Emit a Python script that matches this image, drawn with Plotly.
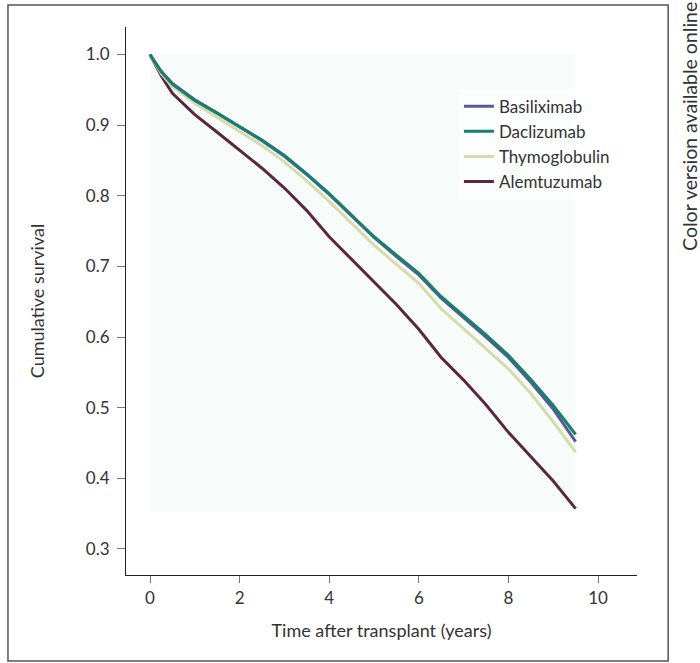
import plotly.graph_objects as go

years = [0, 0.25, 0.5, 1.0, 1.5, 2.0, 2.5, 3.0, 3.5, 4.0, 4.5, 5.0, 5.5, 6.0, 6.5, 7.0, 7.5, 8.0, 8.5, 9.0, 9.5]

basiliximab = [1.0, 0.976, 0.959, 0.936, 0.917, 0.897, 0.878, 0.856, 0.830, 0.802, 0.771, 0.741, 0.714, 0.688, 0.655, 0.628, 0.600, 0.571, 0.536, 0.498, 0.452]
daclizumab = [1.0, 0.976, 0.958, 0.935, 0.917, 0.898, 0.879, 0.857, 0.831, 0.803, 0.772, 0.742, 0.716, 0.690, 0.657, 0.630, 0.603, 0.574, 0.540, 0.503, 0.462]
thymoglobulin = [1.0, 0.973, 0.955, 0.931, 0.911, 0.891, 0.871, 0.848, 0.821, 0.792, 0.761, 0.730, 0.703, 0.676, 0.640, 0.612, 0.584, 0.555, 0.520, 0.480, 0.437]
alemtuzumab = [1.0, 0.970, 0.945, 0.915, 0.890, 0.865, 0.839, 0.811, 0.779, 0.742, 0.710, 0.679, 0.646, 0.611, 0.571, 0.539, 0.504, 0.465, 0.430, 0.396, 0.357]

x_ticks = [0, 2, 4, 6, 8, 10]
y_ticks = [0.3, 0.4, 0.5, 0.6, 0.7, 0.8, 0.9, 1.0]
y_tick_labels = ["0.3", "0.4", "0.5", "0.6", "0.7", "0.8", "0.9", "1.0"]

FONT = "Lato, Open Sans, sans-serif"

fig = go.Figure()

# legend order: Basiliximab, Daclizumab, Thymoglobulin, Alemtuzumab
series = [
    ("Alemtuzumab", alemtuzumab, "#5a2740", 4),
    ("Thymoglobulin", thymoglobulin, "#d6dbab", 3),
    ("Basiliximab", basiliximab, "#565c94", 1),
    ("Daclizumab", daclizumab, "#1c7c70", 2),
]
for name, ys, color, rank in series:
    fig.add_trace(go.Scatter(
        x=years, y=ys, mode="lines", name=name,
        line=dict(color=color, width=3), legendrank=rank,
    ))

# light shaded background region
fig.add_shape(type="rect", xref="x", yref="y", x0=0, x1=9.5, y0=0.352, y1=1.0,
              fillcolor="#f7fcfa", line=dict(width=0), layer="below")

# outer frame
fig.add_shape(type="rect", xref="paper", yref="paper",
              x0=-0.231, x1=1.061, y0=-0.157, y1=1.040,
              line=dict(color="#555555", width=1.5), fillcolor="rgba(0,0,0,0)")

fig.add_annotation(text="Color version available online", xref="paper", yref="paper",
                   x=1.104, y=0.818, xanchor="center", yanchor="middle",
                   showarrow=False, textangle=-90,
                   font=dict(family=FONT, size=19.5, color="#333333"))

fig.update_layout(
    width=700, height=663,
    margin=dict(l=126, r=63, t=27, b=88),
    paper_bgcolor="white", plot_bgcolor="white",
    font=dict(family=FONT, size=17, color="#333333"),
    showlegend=True,
    legend=dict(x=0.6515, y=0.8875, xanchor="left", yanchor="top",
                bgcolor="rgba(255,255,255,0.6)", font=dict(size=17, color="#333333"),
                tracegroupgap=0),
    xaxis=dict(range=[-0.536, 10.87], tickvals=x_ticks, ticks="outside", ticklen=7,
               tickcolor="#777777", showline=True, linecolor="#222222", linewidth=1.2,
               showgrid=False, zeroline=False, tickfont=dict(size=17),
               title=dict(text="Time after transplant (years)", standoff=17,
                          font=dict(size=18))),
    yaxis=dict(range=[0.263, 1.039], tickvals=y_ticks, ticktext=y_tick_labels,
               ticks="outside", ticklen=8, tickcolor="#777777", ticklabelstandoff=4,
               showline=True, linecolor="#222222", linewidth=1.2,
               showgrid=False, zeroline=False, tickfont=dict(size=17),
               title=dict(text="Cumulative survival", standoff=36, font=dict(size=18))),
)

fig.write_html("out.html", config={"displayModeBar": False},
               post_script="document.body.style.margin='0';")
